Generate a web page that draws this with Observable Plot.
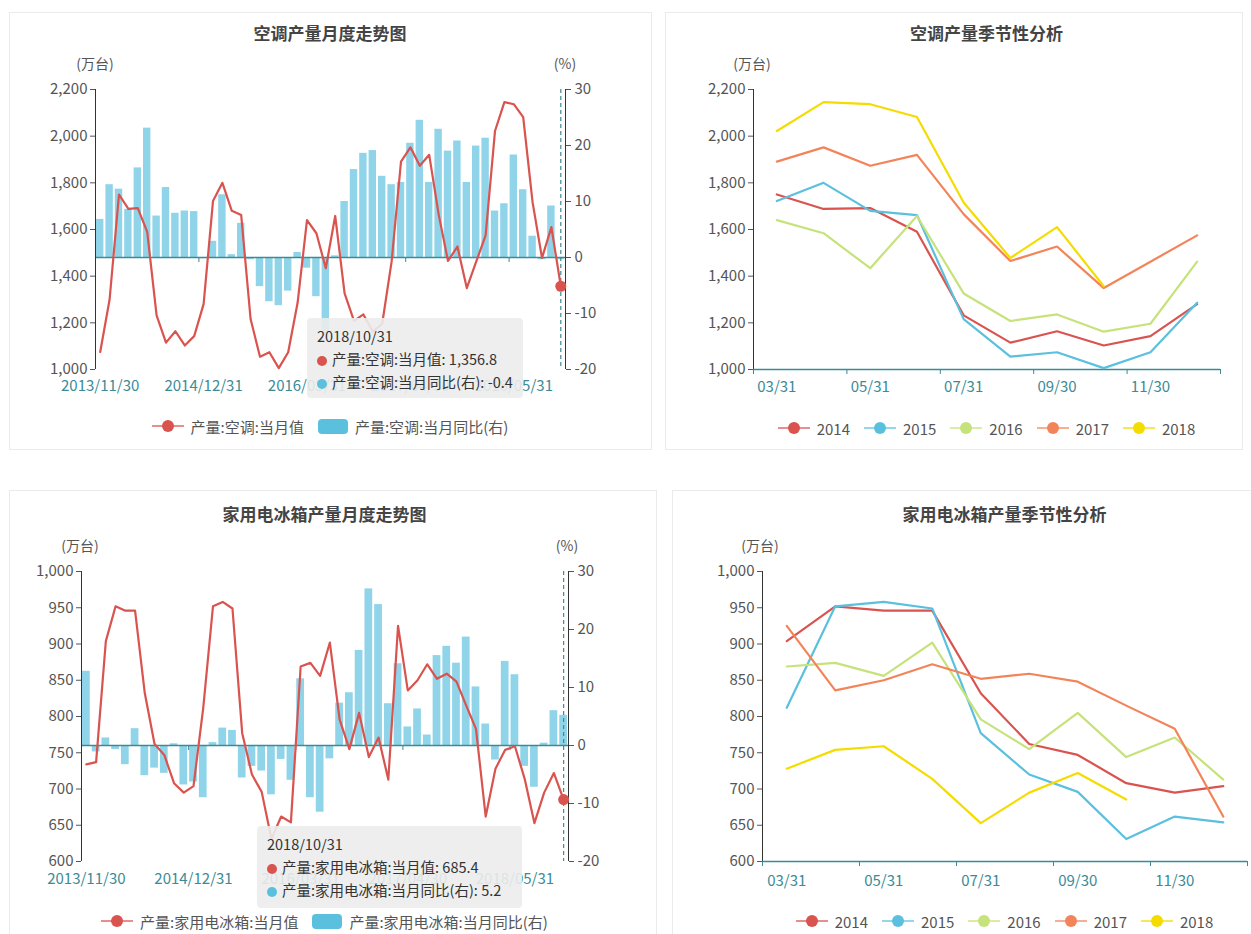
<!DOCTYPE html>
<html>
<head>
<meta charset="utf-8">
<script src="https://cdn.jsdelivr.net/npm/d3@7"></script>
<script src="https://cdn.jsdelivr.net/npm/@observablehq/plot@0.6"></script>
<style>
  html, body { margin: 0; padding: 0; background: #fff; }
  body { font-family: "Noto Sans CJK SC", "Noto Sans", sans-serif; }
  #page { position: relative; width: 1251px; height: 934px; overflow: hidden; }
  .panel { position: absolute; border: 1px solid #ebebeb; box-sizing: border-box; }
  .title { position: absolute; text-align: center; font-size: 17px; font-weight: bold; color: #444; line-height: 20px; }
  .unit { position: absolute; font-size: 14px; color: #555; line-height: 16px; transform: translateX(-50%); white-space: nowrap; }
  .chart { position: absolute; }
  .chart svg { overflow: visible; }
  .legend { position: absolute; display: flex; justify-content: center; align-items: center; font-size: 15px; color: #555; height: 20px; }
  .legend .item { display: flex; align-items: center; margin: 0 7px; white-space: nowrap; }
  .legend svg { margin-right: 7px; }
  .tip { position: absolute; background: rgba(236,236,236,0.9); border-radius: 4px; font-size: 14.5px; color: #333; box-sizing: border-box; padding: 6px 10px; line-height: 23px; white-space: nowrap; }
  .tip .dot { display: inline-block; width: 10px; height: 10px; border-radius: 50%; margin-right: 5px; vertical-align: -1px; }
</style>
</head>
<body>
<div id="page"></div>
<script>
// ---------------- data ----------------
const years = [2014, 2015, 2016, 2017, 2018];
const seasonMonths = ["03/31","04/30","05/31","06/30","07/31","08/31","09/30","10/31","11/30","12/31"];
const leadDates = ["2013/11/30", "2013/12/31"];

// 空调 当月值 (万台)
const acLead = [1075, 1300];
const ac2014 = [1750, 1688, 1692, 1590, 1232, 1115, 1164, 1103, 1143, 1280];
const ac2015 = [1722, 1800, 1680, 1662, 1216, 1055, 1074, 1006, 1074, 1286];
const ac2016 = [1640, 1584, 1434, 1658, 1326, 1208, 1236, 1162, 1196, 1462];
const ac2017 = [1891, 1952, 1873, 1920, 1666, 1465, 1527, 1349, 1462, 1575];
const ac2018 = [2022, 2146, 2137, 2082, 1716, 1478, 1610, 1356.8];
// 空调 当月同比 (%)
const acYoY = [6.8, 13.0, 12.2, 8.6, 16.0, 23.1, 7.4, 12.5, 7.9, 8.3,
  8.2, -0.2, 2.9, 11.2, 0.5, 6.1, -0.4, -5.2, -7.9, -8.6,
  -6.0, 0.9, -1.9, -7.0, -13.6, 0.3, 10.0, 15.7, 18.6, 19.1,
  14.5, 13.0, 13.4, 20.4, 24.5, 13.4, 22.9, 19.0, 20.8, 13.4,
  19.9, 21.3, 8.3, 9.6, 18.3, 12.1, 3.8, -0.4, 9.2, -0.4];

// 家用电冰箱 当月值 (万台)
const frLead = [734, 737];
const fr2014 = [904, 952, 946, 946, 832, 762, 747, 708, 695, 704];
const fr2015 = [812, 952, 958, 949, 777, 720, 696, 631, 662, 654];
const fr2016 = [869, 874, 856, 902, 796, 755, 805, 744, 771, 713];
const fr2017 = [925, 836, 850, 872, 852, 859, 848, 815, 783, 662];
const fr2018 = [728, 754, 759, 714, 653, 695, 722, 685.4];
// 家用电冰箱 当月同比 (%)
const frYoY = [12.8, -1.1, 1.3, -0.7, -3.3, 2.9, -5.2, -3.9, -4.8, 0.3,
  -6.8, -6.3, -9.0, 0.5, 3.0, 2.6, -5.6, -3.6, -4.4, -8.5,
  -2.4, -6.0, 11.5, -9.0, -11.5, -2.3, 7.3, 9.1, 16.4, 27.0,
  24.3, 7.2, 14.1, 3.2, 6.3, 1.8, 15.5, 17.1, 14.2, 18.7,
  10.1, 3.7, -2.5, 14.5, 12.2, -3.6, -7.2, 0.4, 6.0, 5.2];

const yearColors = ["#d9534f", "#5bc0de", "#c6e27b", "#f3845a", "#f4dc00"];
const RED = "#d9534f", BLUE = "#5bc0de", TEAL = "#3a8b97", AXIS = "#333";
const FONT = '"Noto Sans CJK SC", "Noto Sans", sans-serif';

const acSeason = [ac2014, ac2015, ac2016, ac2017, ac2018];
const frSeason = [fr2014, fr2015, fr2016, fr2017, fr2018];
const acMonthly = [...acLead, ...acSeason.flat()];
const frMonthly = [...frLead, ...frSeason.flat()];
const monthDates = [...leadDates, ...years.flatMap(y => seasonMonths.map(m => `${y}/${m}`))]
  .slice(0, acMonthly.length);

const page = document.getElementById("page");
function el(cls, css, html) {
  const d = document.createElement("div");
  d.className = cls;
  Object.assign(d.style, css);
  if (html != null) d.innerHTML = html;
  page.appendChild(d);
  return d;
}

// ---------------- chart builders ----------------
function monthlyPlot({values, yoy, dates, yMin, yMax, yStep, rMin, rMax, rStep, width, height, m, pad}) {
  const n = values.length;
  const k = (yMax - yMin) / (rMax - rMin);
  const toL = r => yMin + (r - rMin) * k;
  const fromL = v => String(Math.round((v - yMin) / k + rMin));
  const zero = toL(0);
  const rows = values.map((v, i) => ({i, v, r: yoy[i], date: dates[i]}));
  const last = rows[n - 1];
  const tickLen = 5 * (yMax - yMin) / (height - m.top - m.bottom);
  const labelIdx = d3.range(0, n, 11);
  return Plot.plot({
    width, height,
    marginLeft: m.left, marginRight: m.right, marginTop: m.top, marginBottom: m.bottom,
    style: {fontSize: "15px", fontFamily: FONT, color: "#555", background: "transparent"},
    x: {type: "linear", domain: [-0.5, n - 0.5], label: null},
    y: {domain: [yMin, yMax], label: null},
    marks: [
      Plot.rectY(rows, {x1: d => d.i - 0.5, x2: d => d.i + 0.5, y1: () => zero, y2: d => toL(d.r),
        fill: BLUE, fillOpacity: 0.68, insetLeft: 1, insetRight: 1}),
      Plot.ruleY([zero], {stroke: TEAL, strokeWidth: 1.3}),
      Plot.ruleX(labelIdx, {x: d => d - 0.5, y1: () => zero, y2: () => zero - tickLen, stroke: TEAL}),
      Plot.ruleX([-0.5], {stroke: AXIS}),
      Plot.ruleX([n - 0.5], {stroke: AXIS}),
      Plot.axisY({ticks: d3.range(yMin, yMax + 1, yStep), tickSize: 5, tickPadding: 3,
        tickFormat: d3.format(","), label: null}),
      Plot.axisY({anchor: "right", ticks: d3.range(rMin, rMax + 1, rStep).map(toL), tickSize: 5, tickPadding: 4,
        tickFormat: fromL, label: null}),
      Plot.axisX({ticks: labelIdx, tickSize: 0, tickPadding: pad, tickFormat: i => dates[i], color: TEAL, label: null}),
      Plot.ruleX([last], {x: "i", stroke: TEAL, strokeDasharray: "4,3", strokeWidth: 1.2}),
      Plot.line(rows, {x: "i", y: "v", stroke: RED, strokeWidth: 2.2}),
      Plot.dot([last], {x: "i", y: "v", r: 5.5, fill: RED})
    ]
  });
}

function seasonalPlot({series, yMin, yMax, yStep, width, height, m, pad}) {
  const rows = years.flatMap((y, j) => series[j].map((v, i) => ({year: y, i, v})));
  return Plot.plot({
    width, height,
    marginLeft: m.left, marginRight: m.right, marginTop: m.top, marginBottom: m.bottom,
    style: {fontSize: "15px", fontFamily: FONT, color: "#555", background: "transparent"},
    x: {type: "linear", domain: [-0.5, seasonMonths.length - 0.5], label: null},
    y: {domain: [yMin, yMax], label: null},
    color: {type: "ordinal", domain: years, range: yearColors},
    marks: [
      Plot.ruleX([-0.5], {stroke: AXIS}),
      Plot.axisY({ticks: d3.range(yMin, yMax + 1, yStep), tickSize: 5, tickPadding: 3,
        tickFormat: d3.format(","), label: null}),
      Plot.axisX({ticks: d3.range(-0.5, seasonMonths.length, 2), tickSize: 5, tickFormat: () => "", color: TEAL, label: null}),
      Plot.axisX({ticks: d3.range(0, seasonMonths.length, 2), tickSize: 0, tickPadding: pad,
        tickFormat: i => seasonMonths[i], color: TEAL, label: null}),
      Plot.ruleY([yMin], {stroke: TEAL, strokeWidth: 1.3}),
      Plot.line(rows, {x: "i", y: "v", z: "year", stroke: "year", strokeWidth: 2.2})
    ]
  });
}

function legend(items, css) {
  const html = items.map(it => {
    const sw = it.kind === "rect"
      ? `<svg width="30" height="15"><rect x="0" y="0" width="30" height="15" rx="4" fill="${it.color}"/></svg>`
      : `<svg width="32" height="14"><line x1="0" x2="32" y1="7" y2="7" stroke="${it.color}" stroke-opacity="0.65" stroke-width="2"/><circle cx="16" cy="7" r="6" fill="${it.color}"/></svg>`;
    return `<div class="item">${sw}<span>${it.label}</span></div>`;
  }).join("");
  el("legend", css, html);
}

function tooltip(lines, css) {
  const [head, ...items] = lines;
  const html = `<div>${head}</div>` + items.map(it =>
    `<div><span class="dot" style="background:${it.color}"></span>${it.text}</div>`).join("");
  el("tip", css, html);
}

function place(svg, left, top) {
  const d = el("chart", {left: left + "px", top: top + "px"});
  d.appendChild(svg);
}

// ---------------- panels ----------------
el("panel", {left: "9px", top: "12px", width: "643px", height: "438px"});
el("panel", {left: "665px", top: "12px", width: "578px", height: "438px"});
el("panel", {left: "9px", top: "490px", width: "648px", height: "460px"});
el("panel", {left: "672px", top: "490px", width: "590px", height: "460px"});

// Panel 1: 空调产量月度走势图
el("title", {left: "95px", width: "470px", top: "23px"}, "空调产量月度走势图");
el("unit", {left: "95px", top: "55px"}, "(万台)");
el("unit", {left: "565px", top: "55px"}, "(%)");
place(monthlyPlot({values: acMonthly, yoy: acYoY, dates: monthDates, yMin: 1000, yMax: 2200, yStep: 200,
  rMin: -20, rMax: 30, rStep: 10, width: 643, height: 400, pad: 11,
  m: {left: 86, right: 87, top: 77, bottom: 43}}), 9, 12);
legend([{label: "产量:空调:当月值", kind: "line", color: RED}, {label: "产量:空调:当月同比(右)", kind: "rect", color: BLUE}],
  {left: "95px", width: "470px", top: "416px"});
tooltip([monthDates[monthDates.length - 1],
  {color: RED, text: `产量:空调:当月值: ${d3.format(",.1f")(acMonthly[acMonthly.length - 1])}`},
  {color: BLUE, text: `产量:空调:当月同比(右): ${acYoY[acYoY.length - 1]}`}],
  {left: "307px", top: "318px", width: "216px", height: "80px"});

// Panel 2: 空调产量季节性分析
el("title", {left: "753px", width: "467px", top: "23px"}, "空调产量季节性分析");
el("unit", {left: "752px", top: "55px"}, "(万台)");
place(seasonalPlot({series: acSeason, yMin: 1000, yMax: 2200, yStep: 200, pad: 12,
  width: 578, height: 400, m: {left: 88, right: 23, top: 77, bottom: 43}}), 665, 12);
legend(years.map((y, j) => ({label: String(y), kind: "line", color: yearColors[j]})),
  {left: "753px", width: "467px", top: "418px"});

// Panel 3: 家用电冰箱产量月度走势图
el("title", {left: "81px", width: "487px", top: "504px"}, "家用电冰箱产量月度走势图");
el("unit", {left: "80px", top: "537px"}, "(万台)");
el("unit", {left: "567px", top: "537px"}, "(%)");
place(monthlyPlot({values: frMonthly, yoy: frYoY, dates: monthDates, yMin: 600, yMax: 1000, yStep: 50,
  rMin: -20, rMax: 30, rStep: 10, width: 648, height: 420, pad: 12,
  m: {left: 72, right: 89, top: 81, bottom: 49}}), 9, 490);
legend([{label: "产量:家用电冰箱:当月值", kind: "line", color: RED}, {label: "产量:家用电冰箱:当月同比(右)", kind: "rect", color: BLUE}],
  {left: "81px", width: "487px", top: "911px"});
tooltip([monthDates[monthDates.length - 1],
  {color: RED, text: `产量:家用电冰箱:当月值: ${d3.format(",.1f")(frMonthly[frMonthly.length - 1])}`},
  {color: BLUE, text: `产量:家用电冰箱:当月同比(右): ${frYoY[frYoY.length - 1]}`}],
  {left: "257px", top: "826px", width: "265px", height: "82px"});

// Panel 4: 家用电冰箱产量季节性分析
el("title", {left: "762px", width: "485px", top: "504px"}, "家用电冰箱产量季节性分析");
el("unit", {left: "760px", top: "537px"}, "(万台)");
place(seasonalPlot({series: frSeason, yMin: 600, yMax: 1000, yStep: 50, pad: 14,
  width: 579, height: 420, m: {left: 90, right: 4, top: 81, bottom: 49}}), 672, 490);
legend(years.map((y, j) => ({label: String(y), kind: "line", color: yearColors[j]})),
  {left: "762px", width: "485px", top: "911px"});
</script>
</body>
</html>
